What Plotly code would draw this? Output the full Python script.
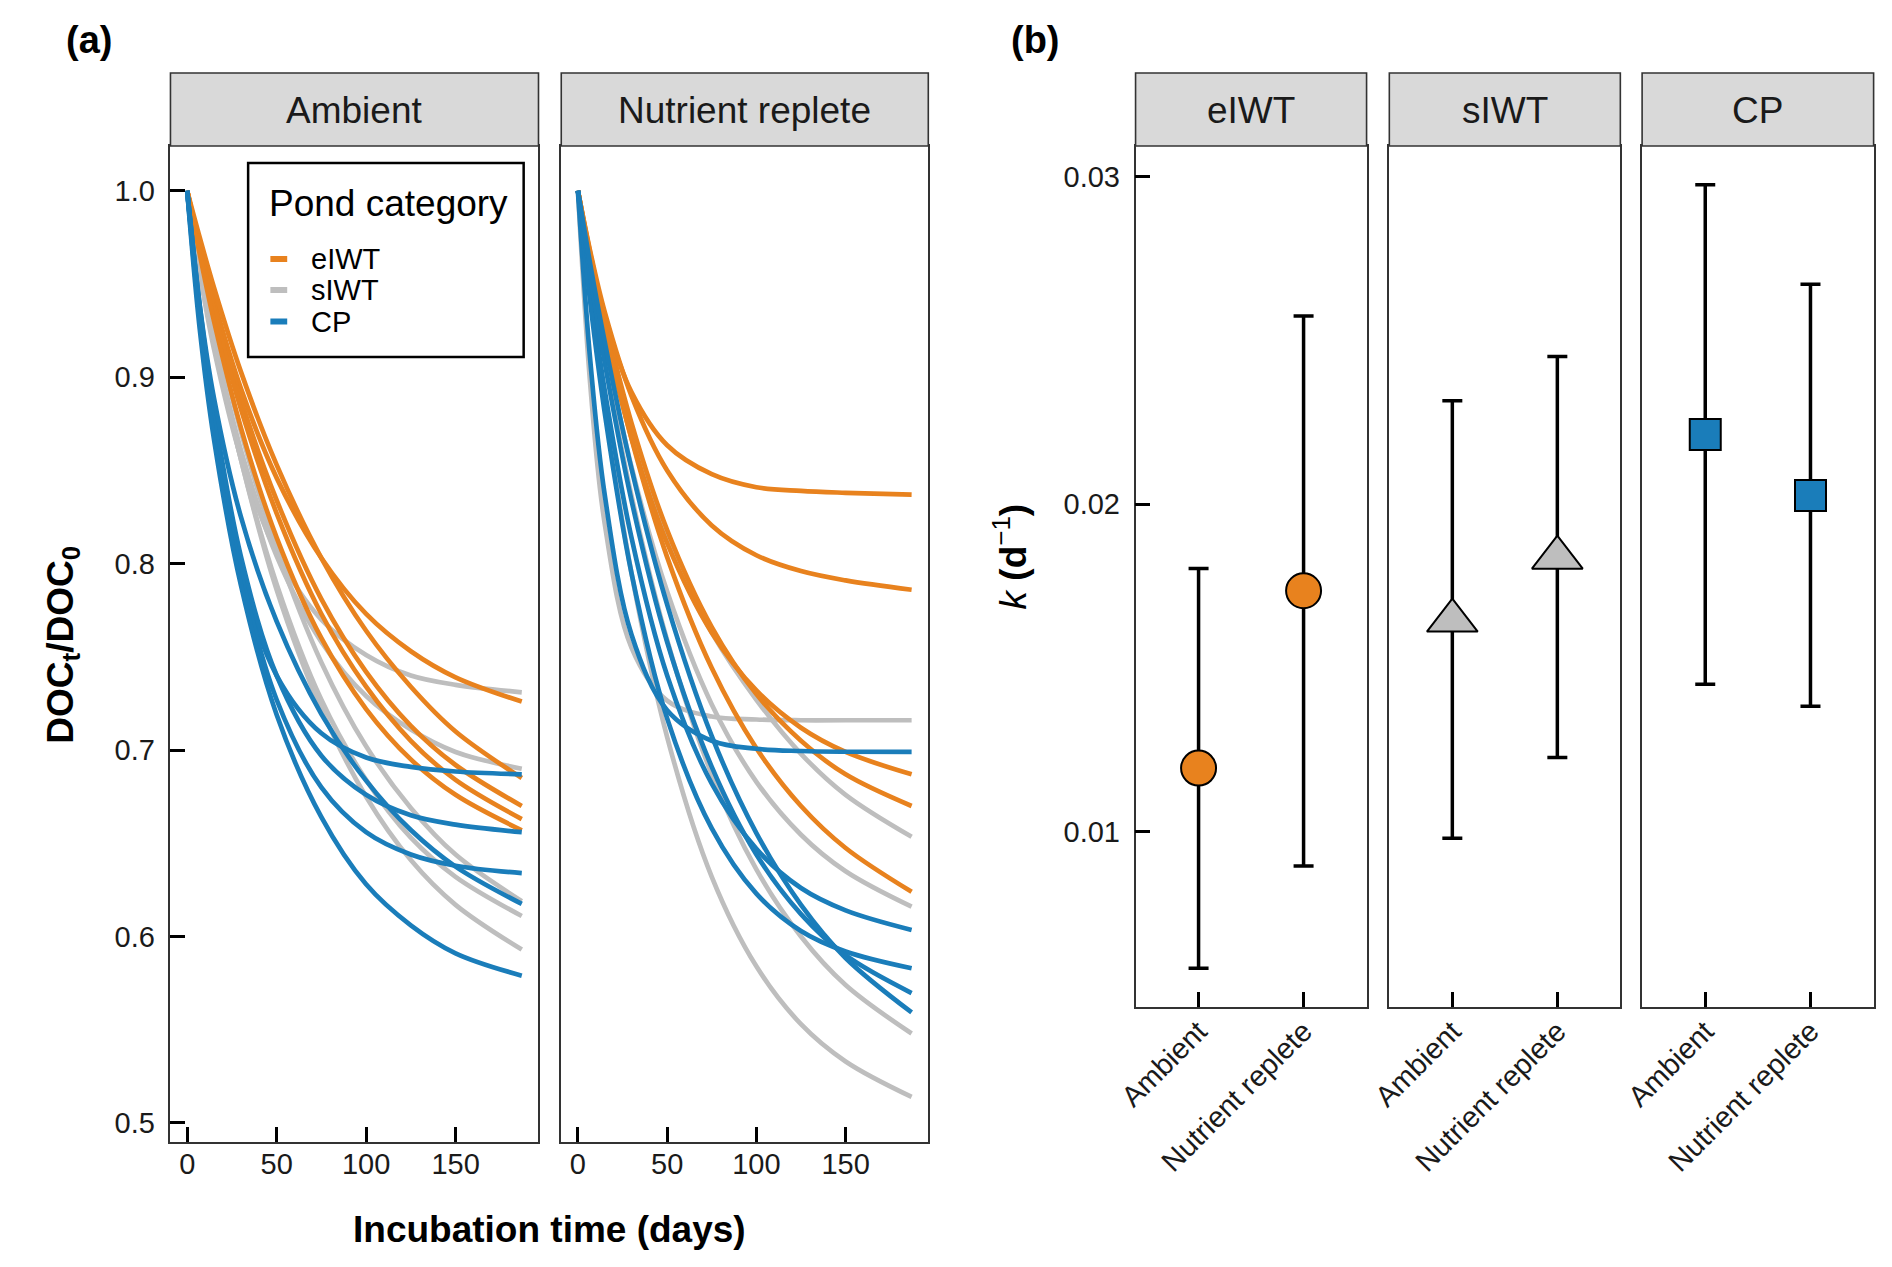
import plotly.graph_objects as go

# page body keeps its default 8px margin, so the figure is 16px smaller
W, H = 1892, 1267
OFF = 8
FW, FH = W - 2 * OFF, H - 2 * OFF

# ---- panel (a): DOC_t / DOC_0 ----
days = [0, 7, 15, 30, 50, 75, 100, 125, 150, 187]

ambient_eiwt = [
    [1, 0.971, 0.941, 0.894, 0.846, 0.803, 0.773, 0.753, 0.739, 0.726],
    [1, 0.975, 0.948, 0.903, 0.853, 0.803, 0.764, 0.734, 0.710, 0.685],
    [1, 0.970, 0.939, 0.888, 0.834, 0.781, 0.742, 0.713, 0.692, 0.670],
    [1, 0.969, 0.936, 0.883, 0.827, 0.773, 0.734, 0.705, 0.684, 0.663],
    [1, 0.966, 0.930, 0.873, 0.814, 0.760, 0.722, 0.695, 0.676, 0.657],
]
ambient_siwt = [
    [1, 0.956, 0.915, 0.857, 0.806, 0.770, 0.751, 0.740, 0.735, 0.731],
    [1, 0.960, 0.921, 0.861, 0.804, 0.758, 0.729, 0.711, 0.699, 0.690],
    [1, 0.966, 0.930, 0.871, 0.808, 0.747, 0.702, 0.669, 0.644, 0.619],
    [1, 0.961, 0.921, 0.856, 0.789, 0.727, 0.684, 0.653, 0.632, 0.611],
    [1, 0.961, 0.921, 0.856, 0.786, 0.722, 0.675, 0.641, 0.617, 0.593],
]
ambient_cp = [
    [1, 0.931, 0.871, 0.795, 0.740, 0.709, 0.696, 0.691, 0.6885, 0.687],
    [1, 0.9385, 0.8815, 0.804, 0.740, 0.697, 0.676, 0.665, 0.660, 0.656],
    [1, 0.9365, 0.877, 0.795, 0.727, 0.680, 0.656, 0.644, 0.638, 0.634],
    [1, 0.9386, 0.8886, 0.8252, 0.769, 0.7193, 0.6836, 0.6571, 0.6375, 0.6175],
    [1, 0.926, 0.8665, 0.7885, 0.719, 0.664, 0.628, 0.606, 0.591, 0.579],
]
nutrient_eiwt = [
    [1, 0.963, 0.932, 0.892, 0.8635, 0.848, 0.841, 0.839, 0.838, 0.837],
    [1, 0.967, 0.935, 0.890, 0.850, 0.8205, 0.8045, 0.796, 0.791, 0.786],
    [1, 0.963, 0.925, 0.8675, 0.811, 0.763, 0.732, 0.712, 0.699, 0.687],
    [1, 0.966, 0.931, 0.8755, 0.818, 0.766, 0.730, 0.705, 0.687, 0.670],
    [1, 0.964, 0.927, 0.867, 0.8035, 0.744, 0.701, 0.670, 0.6475, 0.624],
]
nutrient_siwt = [
    [1, 0.895, 0.8215, 0.755, 0.7265, 0.718, 0.7164, 0.716, 0.716, 0.716],
    [1, 0.965, 0.930, 0.873, 0.812, 0.763, 0.727, 0.698, 0.676, 0.6535],
    [1, 0.959, 0.918, 0.852, 0.785, 0.7245, 0.683, 0.6546, 0.635, 0.616],
    [1, 0.956, 0.910, 0.8365, 0.759, 0.687, 0.636, 0.600, 0.574, 0.548],
    [1, 0.942, 0.884, 0.795, 0.707, 0.632, 0.584, 0.553, 0.533, 0.514],
]
nutrient_cp = [
    [1, 0.908, 0.837, 0.762, 0.7214, 0.705, 0.7007, 0.6995, 0.6991, 0.699],
    [1, 0.946, 0.893, 0.814, 0.740, 0.682, 0.647, 0.626, 0.614, 0.6035],
    [1, 0.9395, 0.881, 0.795, 0.717, 0.658, 0.623, 0.603, 0.592, 0.583],
    [1, 0.954, 0.908, 0.834, 0.758, 0.691, 0.644, 0.612, 0.590, 0.5697],
    [1, 0.960, 0.919, 0.851, 0.778, 0.7075, 0.6555, 0.617, 0.5885, 0.5593],
]

# ---- panel (b): decay rate k (d^-1), mean and interval ----
treatments = ["Ambient", "Nutrient replete"]
k_eiwt = [0.01195, 0.01736]
k_eiwt_lo = [0.00584, 0.00896]
k_eiwt_hi = [0.01804, 0.02574]
k_siwt = [0.01645, 0.01837]
k_siwt_lo = [0.00981, 0.01227]
k_siwt_hi = [0.02316, 0.02451]
k_cp = [0.02213, 0.02027]
k_cp_lo = [0.01451, 0.01384]
k_cp_hi = [0.02975, 0.02671]

ORANGE = "#E8821E"
GREY = "#BEBEBE"
BLUE = "#1A7DBA"
FONT = "Liberation Sans, Arial, sans-serif"


def px(x):
    return (x - OFF) / FW


def py(y):
    return 1 - (y - OFF) / FH


def note(text, x, y, size, xanchor="center", angle=0, color="black"):
    fig.add_annotation(x=px(x), y=py(y), xref="paper", yref="paper", text=text,
                       showarrow=False, xanchor=xanchor, yanchor="middle",
                       textangle=angle, font=dict(family=FONT, size=size, color=color))


fig = go.Figure()

# curves
for xa, ya, sets in [
    ("x", "y", [(ambient_siwt, GREY), (ambient_eiwt, ORANGE), (ambient_cp, BLUE)]),
    ("x2", "y2", [(nutrient_siwt, GREY), (nutrient_eiwt, ORANGE), (nutrient_cp, BLUE)]),
]:
    for curves, col in sets:
        for vals in curves:
            fig.add_trace(go.Scatter(
                x=days, y=vals, mode="lines", xaxis=xa, yaxis=ya,
                line=dict(color=col, width=4.7, shape="spline", smoothing=1),
                showlegend=False, hoverinfo="skip"))

# rate points with intervals
for xa, ya, k, lo, hi, col, sym, size in [
    ("x3", "y3", k_eiwt, k_eiwt_lo, k_eiwt_hi, ORANGE, "circle", 35),
    ("x4", "y4", k_siwt, k_siwt_lo, k_siwt_hi, GREY, "triangle-up", 44),
    ("x5", "y5", k_cp, k_cp_lo, k_cp_hi, BLUE, "square", 31),
]:
    fig.add_trace(go.Scatter(
        x=treatments, y=k, mode="markers", xaxis=xa, yaxis=ya,
        marker=dict(symbol=sym, size=size, color=col, line=dict(color="black", width=2)),
        error_y=dict(type="data", symmetric=False,
                     array=[h - m for h, m in zip(hi, k)],
                     arrayminus=[m - l for m, l in zip(k, lo)],
                     color="black", thickness=3.5, width=10),
        showlegend=False, hoverinfo="skip"))

frame = dict(showline=True, mirror=True, linecolor="#333333", linewidth=1.6,
             showgrid=False, zeroline=False, ticks="inside", ticklen=15,
             tickwidth=3, tickcolor="black",
             tickfont=dict(family=FONT, size=29, color="#1a1a1a"))

ya_dom = [py(1142), py(146)]
yb_dom = [py(1007), py(146)]
xa_range = [-9.35, 196.35]

layout = dict(
    width=FW, height=FH, autosize=False,
    margin=dict(l=0, r=0, t=0, b=0),
    paper_bgcolor="white", plot_bgcolor="white",
    font=dict(family=FONT, color="black"),
    xaxis=dict(frame, domain=[px(152), px(524)], range=xa_range,
               tickvals=[0, 50, 100, 150], anchor="y", ticklabelstandoff=-5),
    yaxis=dict(frame, domain=ya_dom, range=[0.4898, 1.024],
               tickvals=[0.5, 0.6, 0.7, 0.8, 0.9, 1.0], tickformat=".1f",
               anchor="x", ticklabelstandoff=8),
    xaxis2=dict(frame, domain=[px(547), px(918)], range=xa_range,
                tickvals=[0, 50, 100, 150], anchor="y2", ticklabelstandoff=-5),
    yaxis2=dict(frame, domain=ya_dom, range=[0.4898, 1.024], anchor="x2",
                ticks="", showticklabels=False),
)

for i, (x0, x1) in zip([3, 4, 5], [(1127.5, 1361), (1384, 1617.5), (1639.5, 1873.5)]):
    layout[f"xaxis{i}"] = dict(frame, domain=[px(x0), px(x1)], type="category",
                               categoryorder="array", categoryarray=treatments,
                               range=[-0.6, 1.6], tickangle=-45, anchor=f"y{i}",
                               ticklabelstandoff=-6)
    yax = dict(frame, domain=yb_dom, range=[0.00466, 0.03093], anchor=f"x{i}")
    if i == 3:
        yax.update(tickvals=[0.01, 0.02, 0.03], tickformat=".2f", ticklabelstandoff=8)
    else:
        yax.update(ticks="", showticklabels=False)
    layout[f"yaxis{i}"] = yax

fig.update_layout(**layout)

# facet strips
strips = [("Ambient", 152, 524), ("Nutrient replete", 547, 918),
          ("eIWT", 1127.5, 1361), ("sIWT", 1384, 1617.5), ("CP", 1639.5, 1873.5)]
for label, x0, x1 in strips:
    fig.add_shape(type="rect", xref="paper", yref="paper",
                  x0=px(x0), x1=px(x1), y0=py(146), y1=py(73),
                  fillcolor="#D9D9D9", line=dict(color="#333333", width=1.6))
    note(label, (x0 + x1) / 2, 110, 37, color="#1a1a1a")

# legend box drawn by hand to keep the short ggplot keys
fig.add_shape(type="rect", xref="paper", yref="paper",
              x0=px(230.5), x1=px(509), y0=py(357), y1=py(163),
              fillcolor="white", line=dict(color="black", width=2.5))
note("Pond category", 250, 204, 37, xanchor="left")
for label, col, yy in [("eIWT", ORANGE, 259), ("sIWT", GREY, 290), ("CP", BLUE, 321.5)]:
    fig.add_shape(type="line", xref="paper", yref="paper",
                  x0=px(253), x1=px(270), y0=py(yy), y1=py(yy),
                  line=dict(color=col, width=6))
    note(label, 292, yy, 29, xanchor="left")

# titles and panel tags
note("<b>Incubation time (days)</b>", 535, 1229, 37)
note("<b>DOC<sub>t</sub>/DOC<sub>0</sub></b>", 43, 645, 37, angle=-90)
note("<i>k</i> <b>(d</b><sup>\u22121</sup><b>)</b>", 1001, 556, 37, angle=-90)
note("<b>(a)</b>", 44, 40, 38, xanchor="left")
note("<b>(b)</b>", 1000, 40, 38, xanchor="left")

fig.write_html("out.html")
